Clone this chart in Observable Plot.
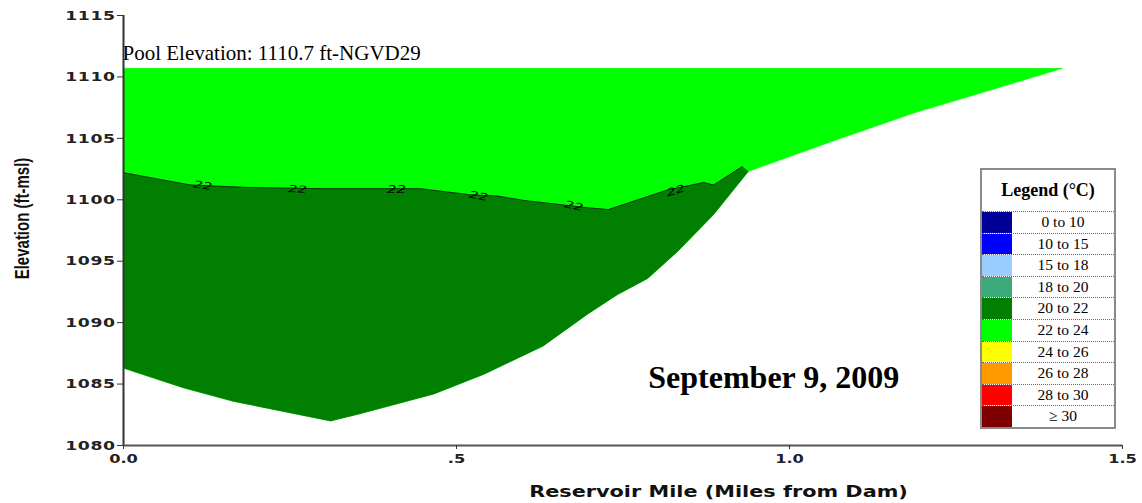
<!DOCTYPE html>
<html>
<head>
<meta charset="utf-8">
<script src="https://cdn.jsdelivr.net/npm/d3@7"></script>
<script src="https://cdn.jsdelivr.net/npm/@observablehq/plot@0.6"></script>
<style>
  html, body { margin: 0; padding: 0; background: #ffffff; }
  #wrap { position: relative; width: 1142px; height: 503px; overflow: hidden; }
  #wrap svg { position: absolute; left: 0; top: 0; }
  g[aria-description="ytick-labels"] text { letter-spacing: 0.4px; }
  #legend {
    position: absolute; left: 980px; top: 168px; width: 132px; height: 257px;
    border: 2px solid #8a8a8a; background: #ffffff;
    font-family: "Liberation Serif", "Times New Roman", serif; color: #000;
  }
  #legend .ttl { height: 41px; line-height: 41px; text-align: center; font-weight: bold; font-size: 18px; }
  #legend .row { position: relative; box-sizing: border-box; height: 21.6px; border-top: 1.5px dotted #6a6a6a; }
  #legend .sw { position: absolute; left: 0; top: 0; width: 30px; bottom: 0; }
  #legend .lb { position: absolute; left: 30px; right: 0; top: 0; bottom: 0; text-align: center; font-size: 15.5px; line-height: 20px; }
</style>
</head>
<body>
<div id="wrap"></div>
<script>
// ---- data ----
const poolElevation = 1110.7;
const poolLabel = "Pool Elevation: 1110.7 ft-NGVD29";
const dateLabel = "September 9, 2009";
const xAxisLabel = "Reservoir Mile (Miles from Dam)";
const yAxisLabel = "Elevation (ft-msl)";

// reservoir bed (bottom of the water body), miles from dam / elevation
const bedMile = [0.000, 0.090, 0.165, 0.311, 0.356, 0.466, 0.541, 0.630, 0.697, 0.742, 0.787, 0.832, 0.886, 0.938, 1.077, 1.189, 1.276, 1.410];
const bedElev = [1086.3, 1084.7, 1083.6, 1082.0, 1082.6, 1084.2, 1085.8, 1088.1, 1090.7, 1092.3, 1093.6, 1095.8, 1098.8, 1102.3, 1105.0, 1107.1, 1108.5, 1110.7];

// 22 °C isotherm
const contourMile = [0.000, 0.100, 0.186, 0.300, 0.446, 0.521, 0.562, 0.600, 0.697, 0.728, 0.817, 0.871, 0.886, 0.929];
const contourElev = [1102.2, 1101.2, 1101.0, 1100.9, 1100.9, 1100.4, 1100.3, 1099.95, 1099.35, 1099.2, 1100.8, 1101.4, 1101.2, 1102.7];
const contourEndMile = 0.938;

// contour labels
const labelMile  = [0.119, 0.261, 0.410, 0.533, 0.676, 0.829];
const labelElev  = [1101.15, 1100.85, 1100.85, 1100.3, 1099.5, 1100.75];
const labelAngle = [9, 3, 0, 10, 13, -17];
const labelText = "22";

const xTicks = [0, 0.5, 1.0, 1.5];
const xTickLabels = ["0.0", ".5", "1.0", "1.5"];
const yTicks = [1080, 1085, 1090, 1095, 1100, 1105, 1110, 1115];

const legendTitle = "Legend (°C)";
const legendLabels = ["0 to 10", "10 to 15", "15 to 18", "18 to 20", "20 to 22", "22 to 24", "24 to 26", "26 to 28", "28 to 30", "≥ 30"];
const legendColors = ["#000099", "#0000ff", "#99ccff", "#3caa78", "#007f00", "#00ff00", "#ffff00", "#ff9900", "#ff0000", "#7f0000"];

// ---- build polygons from the arrays ----
const bed = bedMile.map((m, i) => ({mile: m, elev: bedElev[i]}));
const water = [{mile: bedMile[0], elev: poolElevation}, ...bed.slice().reverse()];
const contour = contourMile.map((m, i) => ({mile: m, elev: contourElev[i]}));
const coldLayer = [...contour, ...bed.filter(d => d.mile <= contourEndMile).reverse()];
const labels = labelMile.map((m, i) => ({mile: m, elev: labelElev[i], angle: labelAngle[i]}));

const colorWarm = legendColors[legendLabels.indexOf("22 to 24")];
const colorCold = legendColors[legendLabels.indexOf("20 to 22")];
const tickFont = {fontFamily: "DejaVu Sans", fontSize: 13, fontWeight: "bold", fill: "#222"};

const plot = Plot.plot({
  width: 1142,
  height: 503,
  marginLeft: 123,
  marginRight: 20,
  marginTop: 15,
  marginBottom: 58,
  x: {domain: [0, 1.5]},
  y: {domain: [1080, 1115]},
  style: {background: "transparent", overflow: "visible", color: "#1a1a1a"},
  marks: [
    Plot.line(water, {x: "mile", y: "elev", fill: colorWarm, stroke: colorWarm, strokeWidth: 0.6}),
    Plot.line(coldLayer, {x: "mile", y: "elev", fill: colorCold, stroke: colorCold, strokeWidth: 0.6}),
    Plot.line(contour, {x: "mile", y: "elev", stroke: "#0b2a0b", strokeWidth: 0.9}),
    Plot.text(labels, {x: "mile", y: "elev", text: () => labelText, rotate: "angle", ariaDescription: "contour-labels",
      fontFamily: "DejaVu Sans", fontSize: 10, fontStyle: "italic", fill: "#000"}),
    Plot.text([poolLabel], {x: 0, y: poolElevation, text: d => d, textAnchor: "start", lineAnchor: "bottom",
      dx: -1, dy: -8, fontFamily: "Liberation Serif", fontSize: 21, fill: "#000"}),
    Plot.text([dateLabel], {x: 0.788, y: 1084.72, text: d => d, textAnchor: "start", lineAnchor: "bottom",
      fontFamily: "Liberation Serif", fontSize: 32, fontWeight: "bold", fill: "#000"}),
    Plot.ruleX([0], {y1: 1080, y2: 1115, stroke: "#333", strokeWidth: 2}),
    Plot.ruleY([1080], {x1: 0, x2: 1.5, stroke: "#555", strokeWidth: 2}),
    Plot.axisY({ticks: yTicks, tickSize: 6, tickFormat: () => "", label: null, stroke: "#333"}),
    Plot.axisX({ticks: xTicks, tickSize: 4, tickFormat: () => "", label: null, stroke: "#333"}),
    Plot.text(yTicks, {x: 0, y: d => d, text: d => String(d), textAnchor: "end", dx: -8, ariaDescription: "ytick-labels", ...tickFont}),
    Plot.text(xTicks, {x: d => d, y: 1080, text: (d, i) => xTickLabels[i], textAnchor: "middle", lineAnchor: "top",
      dy: 8.5, ariaDescription: "xtick-labels", ...tickFont}),
    Plot.text([yAxisLabel], {frameAnchor: "left", textAnchor: "middle", text: d => d, rotate: -90, dx: -101, dy: -12,
      ariaDescription: "y-title", fontFamily: "Liberation Sans", fontSize: 15, fontWeight: "bold", fill: "#111"}),
    Plot.text([xAxisLabel], {frameAnchor: "bottom", textAnchor: "middle", text: d => d, lineAnchor: "bottom", dx: 95.5, dy: 51,
      ariaDescription: "x-title", fontFamily: "DejaVu Sans", fontSize: 16, fontWeight: "bold", fill: "#111"})
  ]
});

const wrap = document.getElementById("wrap");
wrap.appendChild(plot);

// widen glyphs (the reference uses a stretched / condensed sans font)
function stretch(desc, sx, sy) {
  plot.querySelectorAll(`g[aria-description="${desc}"] text`).forEach(t => {
    const tr = t.getAttribute("transform");
    if (tr) {
      t.setAttribute("transform", `${tr} scale(${sx},${sy})`);
    } else {
      const x = t.getAttribute("x") || 0, y = t.getAttribute("y") || 0;
      t.removeAttribute("x"); t.removeAttribute("y");
      t.setAttribute("transform", `translate(${x},${y}) scale(${sx},${sy})`);
    }
  });
}
stretch("ytick-labels", 1.33, 1);
stretch("xtick-labels", 1.25, 1);
stretch("x-title", 1.3, 1);
stretch("contour-labels", 1.5, 1);
stretch("y-title", 1, 1.4);

// legend
const legend = document.createElement("div");
legend.id = "legend";
const ttl = document.createElement("div");
ttl.className = "ttl";
ttl.textContent = legendTitle;
legend.appendChild(ttl);
legendLabels.forEach((lab, i) => {
  const row = document.createElement("div");
  row.className = "row";
  const sw = document.createElement("div");
  sw.className = "sw";
  sw.style.background = legendColors[i];
  const lb = document.createElement("div");
  lb.className = "lb";
  lb.textContent = lab;
  row.appendChild(sw);
  row.appendChild(lb);
  legend.appendChild(row);
});
wrap.appendChild(legend);
</script>
</body>
</html>
